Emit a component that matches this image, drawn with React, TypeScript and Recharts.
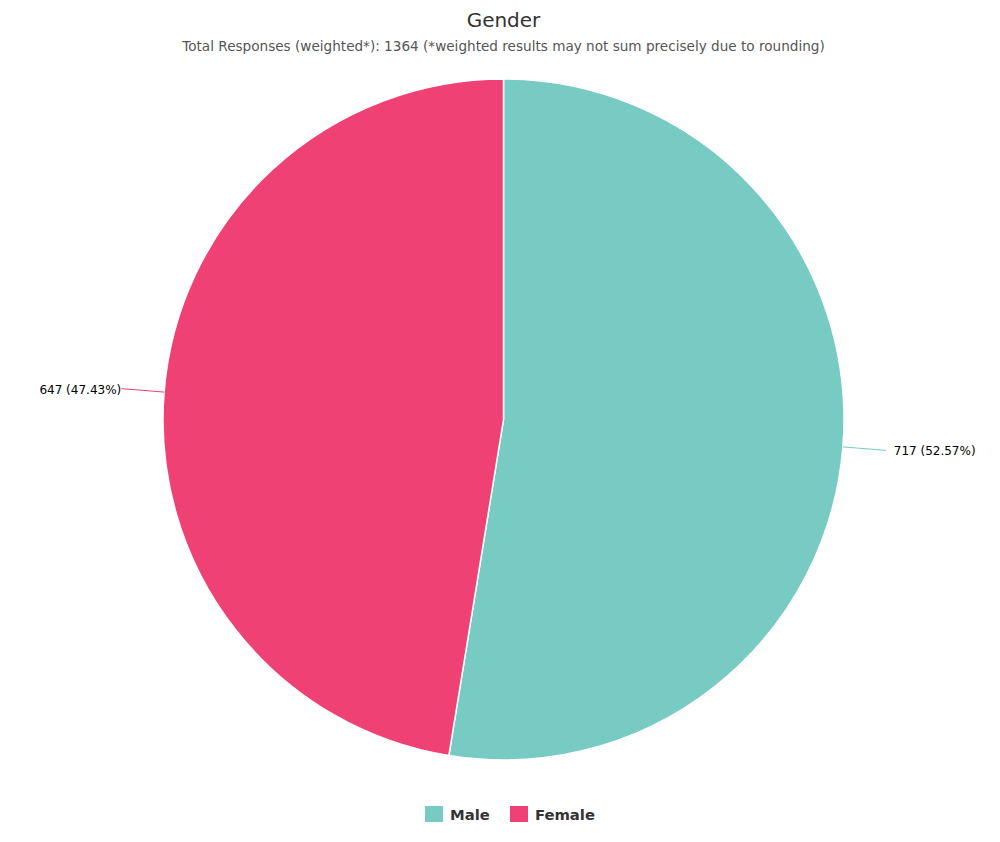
import React from "react";
import { PieChart, Pie, Cell, Legend } from "recharts";

const categories = ["Male", "Female"];
const values = [717, 647];
const percents = ["52.57%", "47.43%"];
const colors = ["#77cbc3", "#ef4173"];

const data = categories.map((name, i) => ({ name, value: values[i], pct: percents[i] }));

const RADIAN = Math.PI / 180;

const renderLabel = (props: any) => {
  const { cx, cy, midAngle, outerRadius, index } = props;
  const cos = Math.cos(-midAngle * RADIAN);
  const sin = Math.sin(-midAngle * RADIAN);
  const sx = cx + outerRadius * cos;
  const sy = cy + outerRadius * sin;
  const ex = cx + (outerRadius + 43) * cos;
  const ey = cy + (outerRadius + 43) * sin;
  const right = cos >= 0;
  const tx = ex + (right ? 8 : 0);
  return (
    <g>
      <path d={`M${sx},${sy}L${ex},${ey}`} stroke={colors[index]} strokeWidth={1} fill="none" />
      <text
        x={tx}
        y={ey + 1}
        textAnchor={right ? "start" : "end"}
        dominantBaseline="central"
        fill="#000000"
        style={{ fontFamily: "DejaVu Sans", fontSize: 12 }}
      >
        {`${data[index].value} (${data[index].pct})`}
      </text>
    </g>
  );
};

const renderLegend = () => (
  <div style={{ display: "flex", justifyContent: "center", alignItems: "center", fontFamily: "DejaVu Sans", fontWeight: 700, fontSize: 14.8, color: "#333333", height: 22, paddingLeft: 20 }}>
    {categories.map((c, i) => (
      <div key={c} style={{ display: "flex", alignItems: "center", marginRight: i === 0 ? 20 : 0 }}>
        <span style={{ display: "inline-block", width: 18, height: 16, background: colors[i], marginRight: 7 }} />
        <span>{c}</span>
      </div>
    ))}
  </div>
);

export default function App() {
  return (
    <div style={{ position: "absolute", left: 0, top: 0, width: 1000, height: 842, background: "#fff" }}>
      <div style={{ position: "absolute", top: 7, left: 3.5, width: 1000, textAlign: "center", fontFamily: "DejaVu Sans", fontSize: 20, color: "#333333", lineHeight: "26px" }}>
        Gender
      </div>
      <div style={{ position: "absolute", top: 37, left: 3.5, width: 1000, textAlign: "center", fontFamily: "DejaVu Sans", fontSize: 13.6, color: "#555555", lineHeight: "18px" }}>
        Total Responses (weighted*): 1364 (*weighted results may not sum precisely due to rounding)
      </div>
      <PieChart width={1000} height={842} margin={{ top: 0, right: 0, bottom: 0, left: 0 }}>
        <Pie
          data={data}
          dataKey="value"
          nameKey="name"
          cx={503.5}
          cy={419.5}
          outerRadius={340.5}
          startAngle={90}
          endAngle={-270}
          stroke="#ffffff"
          strokeWidth={1.5}
          label={renderLabel}
          labelLine={false}
          isAnimationActive={false}
        >
          {data.map((d, i) => (
            <Cell key={d.name} fill={colors[i]} />
          ))}
        </Pie>
        <Legend content={renderLegend} verticalAlign="bottom" wrapperStyle={{ top: 803, left: 0, width: 1000 }} />
      </PieChart>
    </div>
  );
}
